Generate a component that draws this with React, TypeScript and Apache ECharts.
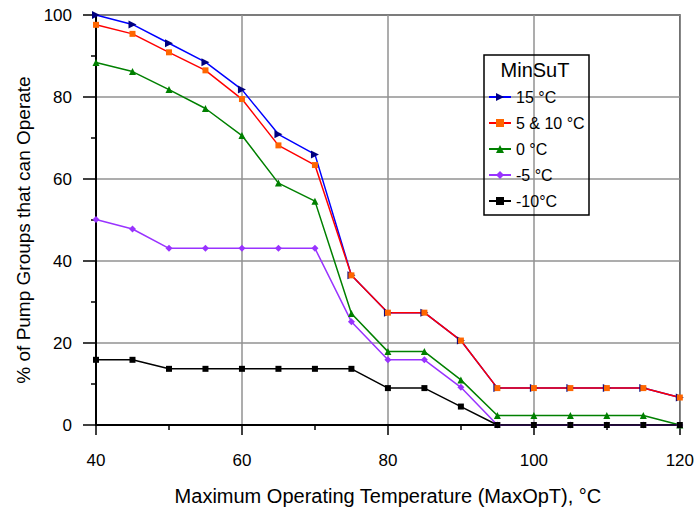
import React, { useEffect, useRef } from "react";
import * as echarts from "echarts";

const temps = [40, 45, 50, 55, 60, 65, 70, 75, 80, 85, 90, 95, 100, 105, 110, 115, 120];
const s15 = [100, 97.7, 93.1, 88.5, 81.8, 70.9, 66.0, 36.5, 27.4, 27.4, 20.6, 9.0, 9.0, 9.0, 9.0, 9.0, 6.7];
const s5and10 = [97.6, 95.4, 90.9, 86.5, 79.5, 68.2, 63.4, 36.5, 27.4, 27.4, 20.6, 9.0, 9.0, 9.0, 9.0, 9.0, 6.7];
const s0 = [88.4, 86.2, 81.8, 77.2, 70.6, 59.0, 54.6, 27.2, 17.9, 17.9, 11.0, 2.3, 2.3, 2.3, 2.3, 2.3, 0];
const sm5 = [50.1, 47.8, 43.1, 43.1, 43.1, 43.1, 43.1, 25.2, 15.9, 15.9, 9.2, 0, 0, 0, 0, 0, 0];
const sm10 = [15.9, 15.9, 13.7, 13.7, 13.7, 13.7, 13.7, 13.7, 9.0, 9.0, 4.5, 0, 0, 0, 0, 0, 0];
const seriesNames = ["15 °C", "5 & 10 °C", "0 °C", "-5 °C", "-10°C"];
const legendTitle = "MinSuT";
const xTitle = "Maximum Operating Temperature (MaxOpT), °C";
const yTitle = "% of Pump Groups that can Operate";

const FONT = "Liberation Sans, Arial, sans-serif";

export default function App() {
  const ref = useRef<HTMLDivElement>(null);
  useEffect(() => {
    if (!ref.current) return;
    const chart = echarts.init(ref.current, null, { renderer: "svg" });
    const pairs = (arr: number[]) => temps.map((t, i) => [t, arr[i]]);
    const mk = (
      name: string,
      data: number[],
      line: string,
      fill: string,
      symbol: string,
      size: number,
      rotate = 0
    ) => ({
      name,
      type: "line",
      data: pairs(data),
      symbol,
      symbolSize: size,
      symbolRotate: rotate,
      showAllSymbol: true,
      lineStyle: { color: line, width: 1.5 },
      itemStyle: { color: fill, borderWidth: 0 },
      color: line,
    });
    chart.setOption({
      animation: false,
      textStyle: { fontFamily: FONT },
      grid: {
        left: 96,
        right: 13,
        top: 15,
        bottom: 85,
        show: true,
        borderColor: "#000",
        borderWidth: 1.5,
      },
      legend: {
        orient: "vertical",
        left: 483,
        top: 84,
        itemWidth: 22,
        itemHeight: 10,
        itemGap: 10,
        data: seriesNames,
        textStyle: { fontSize: 16, color: "#000", fontFamily: FONT, lineHeight: 16 },
      },
      graphic: [
        {
          type: "rect",
          shape: { x: 484, y: 55, width: 105, height: 160 },
          style: { fill: "none", stroke: "#000", lineWidth: 1.5 },
          z: 10,
        },
        {
          type: "text",
          x: 535,
          y: 70,
          style: {
            text: legendTitle,
            fill: "#000",
            font: `20px ${FONT}`,
            align: "center",
            verticalAlign: "middle",
          },
          z: 10,
        },
        {
          type: "text",
          x: 23.5,
          y: 230,
          rotation: Math.PI / 2,
          style: {
            text: yTitle,
            fill: "#000",
            font: `19px ${FONT}`,
            align: "center",
            verticalAlign: "middle",
          },
          z: 10,
        },
      ],
      xAxis: {
        type: "value",
        min: 40,
        max: 120,
        interval: 20,
        name: xTitle,
        nameLocation: "middle",
        nameGap: 61,
        nameTextStyle: { fontSize: 20, color: "#000", fontFamily: FONT },
        axisLine: { lineStyle: { color: "#000", width: 2 } },
        axisTick: { show: true, length: 10, lineStyle: { color: "#000", width: 1.5 } },
        minorTick: { show: true, splitNumber: 2, length: 5, lineStyle: { color: "#000", width: 1.5 } },
        axisLabel: { fontSize: 17, color: "#000", margin: 27, fontFamily: FONT },
        splitLine: { show: true, lineStyle: { color: "#929292", width: 1.5 } },
      },
      yAxis: {
        type: "value",
        min: 0,
        max: 100,
        interval: 20,
        axisLine: { show: true, lineStyle: { color: "#000", width: 2 } },
        axisTick: { show: true, length: 13, lineStyle: { color: "#000", width: 1.5 } },
        minorTick: { show: true, splitNumber: 2, length: 5, lineStyle: { color: "#000", width: 1.5 } },
        axisLabel: { fontSize: 17, color: "#000", margin: 24, fontFamily: FONT },
        splitLine: { show: true, lineStyle: { color: "#929292", width: 1.5 } },
      },
      series: [
        mk(seriesNames[0], s15, "#0000FF", "#000080", "triangle", 8, -90),
        mk(seriesNames[1], s5and10, "#FF0000", "#FF6600", "rect", 6),
        mk(seriesNames[2], s0, "#008000", "#008000", "triangle", 7),
        mk(seriesNames[3], sm5, "#9933FF", "#9933FF", "diamond", 7),
        mk(seriesNames[4], sm10, "#000000", "#000000", "rect", 6),
      ],
    });
    return () => chart.dispose();
  }, []);
  return <div ref={ref} style={{ width: 697, height: 511, position: "absolute", left: 0, top: 0 }} />;
}
